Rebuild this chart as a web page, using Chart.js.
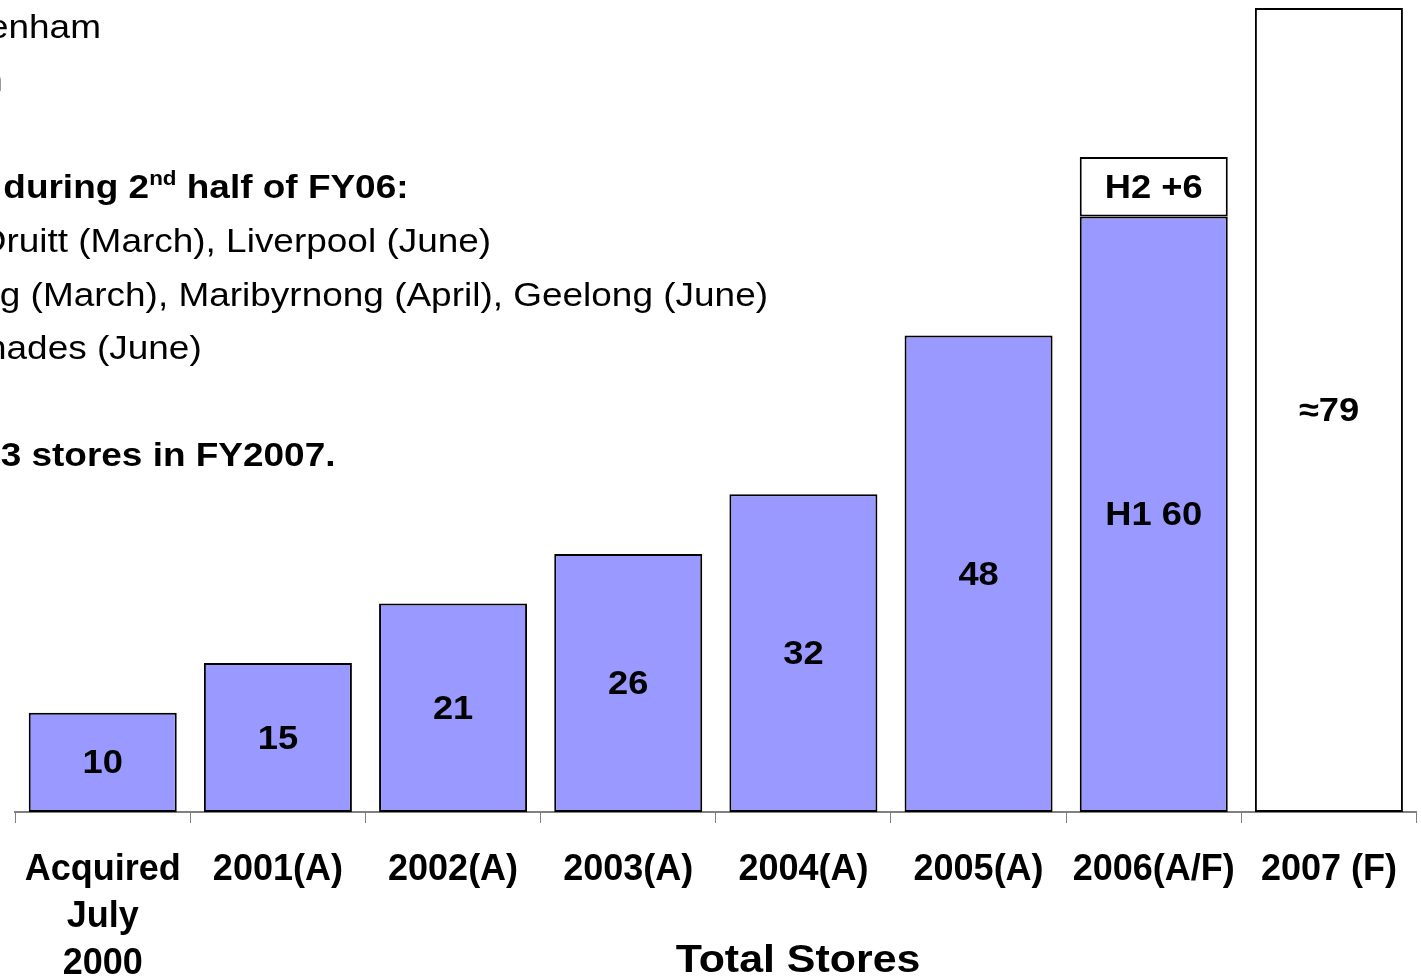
<!DOCTYPE html>
<html>
<head>
<meta charset="utf-8">
<script src="https://cdn.jsdelivr.net/npm/chart.js@4.4.0/dist/chart.umd.min.js"></script>
<style>
  html, body { margin: 0; padding: 0; background: #fff; overflow: hidden; }
  #wrap { position: relative; width: 1421px; height: 977px; overflow: hidden; }
  canvas { position: absolute; left: 0; top: 0; }
  .note { position: absolute; white-space: nowrap; font-family: "Liberation Sans", Arial, sans-serif;
          font-size: 33px; line-height: 40px; color: #000; text-align: right;
          transform: scaleX(1.12); transform-origin: right center; }
  .note.b { font-weight: bold; }
  .note sup { font-size: 20px; line-height: 0; vertical-align: 13px; }
</style>
</head>
<body>
<div id="wrap">
  <canvas id="storesChart" width="1421" height="977"></canvas>
</div>
<script>
// categorias e valores do gráfico
const categories = [['Acquired', 'July', '2000'], '2001(A)', '2002(A)', '2003(A)', '2004(A)', '2005(A)', '2006(A/F)', '2007 (F)'];
const actualStores = [10, 15, 21, 26, 32, 48, 60, null];
const extraStores = [null, null, null, null, null, null, 6, 81];
const actualLabels = ['10', '15', '21', '26', '32', '48', 'H1 60', ''];
const extraLabels = ['', '', '', '', '', '', 'H2 +6', '≈79'];
const axisTitle = 'Total Stores';

// texto do slide que fica por cima (cortado à esquerda)
const notes = [
  { text: 'Cheltenham', end: 101, y: 27, bold: false },
  { text: 'Preston', end: 3, y: 80, bold: false },
  { text: 'New stores opened during 2<sup>nd</sup> half of FY06:', end: 409, y: 187, bold: true },
  { text: 'NSW – Mt Druitt (March), Liverpool (June)', end: 491, y: 241, bold: false },
  { text: 'VIC – Epping (March), Maribyrnong (April), Geelong (June)', end: 768, y: 295, bold: false },
  { text: 'SA – Promenades (June)', end: 202, y: 348, bold: false },
  { text: 'Plan to open 13 stores in FY2007.', end: 336, y: 455, bold: true },
];

const wrap = document.getElementById('wrap');
notes.forEach(n => {
  const d = document.createElement('div');
  d.className = 'note' + (n.bold ? ' b' : '');
  d.innerHTML = n.text;
  d.style.right = (1421 - n.end) + 'px';
  d.style.top = (n.y - 20) + 'px';
  wrap.appendChild(d);
});

const FONT = '"Liberation Sans", Arial, sans-serif';

// texto um pouco esticado na horizontal, como no slide original
function stretchedText(ctx, text, x, y, sx) {
  ctx.save();
  ctx.translate(x, y);
  ctx.scale(sx, 1);
  ctx.fillText(text, 0, 0);
  ctx.restore();
}

// escreve os números dentro das barras
const barLabels = {
  id: 'barLabels',
  afterDatasetsDraw(chart) {
    const ctx = chart.ctx;
    ctx.save();
    ctx.font = 'bold 33px ' + FONT;
    ctx.fillStyle = '#000';
    ctx.textAlign = 'center';
    ctx.textBaseline = 'middle';
    [actualLabels, extraLabels].forEach((labels, di) => {
      chart.getDatasetMeta(di).data.forEach((bar, i) => {
        if (!labels[i]) return;
        const mid = (bar.y + bar.base) / 2;
        stretchedText(ctx, labels[i], bar.x, mid + 2, 1.1);
      });
    });
    // título do eixo
    ctx.font = 'bold 39px ' + FONT;
    stretchedText(ctx, axisTitle, 798, 961, 1.1);
    ctx.restore();
  }
};

new Chart(document.getElementById('storesChart').getContext('2d'), {
  type: 'bar',
  data: {
    labels: categories,
    datasets: [
      {
        label: 'Stores',
        data: actualStores,
        backgroundColor: '#9999FF',
        borderColor: '#000',
        borderWidth: 2,
        borderSkipped: false,
      },
      {
        label: 'Extra',
        data: extraStores,
        backgroundColor: '#FFFFFF',
        borderColor: '#000',
        borderWidth: 2,
        borderSkipped: false,
      }
    ]
  },
  options: {
    responsive: false,
    animation: false,
    events: [],
    layout: { padding: { left: 15, right: 1, top: 8, bottom: 0 } },
    plugins: { legend: { display: false }, tooltip: { enabled: false } },
    datasets: { bar: { barPercentage: 0.845, categoryPercentage: 1 } },
    scales: {
      x: {
        stacked: true,
        afterFit: (scale) => { scale.height = 165; },
        grid: { display: true, drawOnChartArea: false, tickLength: 11, color: '#808080', lineWidth: 1, offset: true },
        border: { display: true, color: '#808080', width: 2 },
        ticks: {
          color: '#000',
          font: { family: FONT, size: 36, weight: 'bold', lineHeight: 1.3 },
          padding: 24,
          maxRotation: 0,
          autoSkip: false,
        }
      },
      y: {
        stacked: true,
        display: false,
        min: 0,
        max: 81,
      }
    }
  },
  plugins: [barLabels]
});
</script>
</body>
</html>
